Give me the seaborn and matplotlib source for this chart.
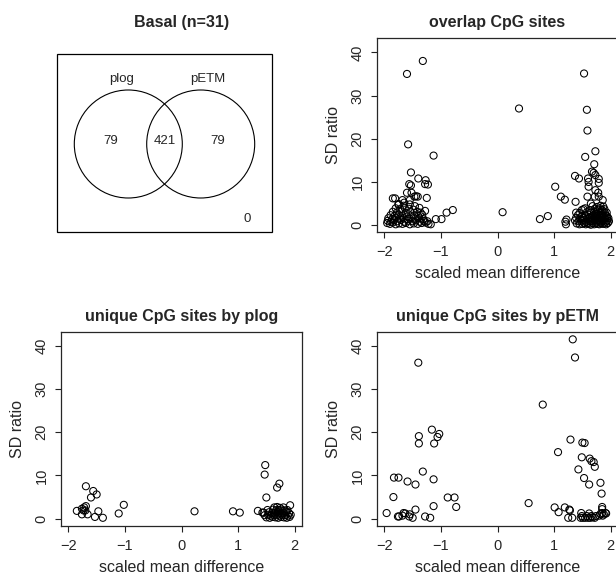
import pandas as pd
import seaborn as sns
import matplotlib.pyplot as plt
from matplotlib.patches import Circle, Rectangle

sns.set_style("ticks")
plt.rcParams['font.family'] = ['Liberation Sans', 'DejaVu Sans']

# venn counts: plog only, both, pETM only, neither
venn_title = "Basal (n=31)"
venn_sets = ["plog", "pETM"]
venn_counts = [79, 421, 79, 0]

titles = ["overlap CpG sites", "unique CpG sites by plog", "unique CpG sites by pETM"]
xticks = [-2, -1, 0, 1, 2]
yticks = [0, 10, 20, 30, 40]

# (scaled mean difference, SD ratio)
overlap = [
    # left side, sparse
    (-1.60, 35.0), (-1.32, 38.0), (-1.58, 18.7), (-1.13, 16.1), (-1.53, 12.2),
    (-1.40, 10.8), (-1.27, 10.4), (-1.28, 9.5), (-1.23, 9.4), (-1.56, 9.5),
    (-1.53, 9.2), (-1.60, 7.5), (-1.52, 7.5), (-1.47, 6.6), (-1.41, 6.6),
    (-1.44, 6.7), (-1.25, 6.3), (-1.85, 6.2), (-1.81, 6.2), (-1.65, 5.2),
    (-1.75, 4.9), (-1.28, 3.3), (-0.79, 3.5), (-0.90, 2.9), (-0.99, 1.4),
    (-1.09, 1.4), (-1.18, 0.2), (-1.55, 5.8), (-1.68, 5.8),
    # middle
    (0.09, 3.0), (0.38, 27.0), (0.75, 1.4), (0.89, 2.1),
    # right side, sparse
    (1.02, 8.9), (1.12, 6.6), (1.19, 5.9), (1.20, 0.8), (1.21, 0.2), (1.22, 1.3),
    (1.53, 35.1), (1.58, 26.7), (1.59, 21.9), (1.55, 15.8), (1.73, 17.1),
    (1.71, 14.1), (1.67, 12.4), (1.70, 12.1), (1.73, 11.6), (1.37, 11.4),
    (1.44, 10.8), (1.60, 10.8), (1.61, 10.0), (1.79, 10.7), (1.79, 9.8),
    (1.61, 8.9), (1.73, 8.1), (1.78, 7.5), (1.59, 6.6), (1.72, 6.6),
    (1.79, 6.6), (1.38, 5.4), (1.86, 5.8), (1.65, 5.0), (1.55, 3.9),
    (1.49, 3.5), (1.39, 2.9),
    # right side, dense
    (1.40, 0.4), (1.45, 0.2), (1.50, 0.3), (1.53, 0.5), (1.56, 0.2), (1.59, 0.4),
    (1.62, 0.3), (1.65, 0.1), (1.68, 0.5), (1.71, 0.2), (1.74, 0.4), (1.77, 0.3),
    (1.80, 0.2), (1.83, 0.5), (1.86, 0.3), (1.89, 0.4), (1.92, 0.2), (1.95, 0.5),
    (1.37, 1.1), (1.43, 0.9), (1.48, 1.0), (1.52, 1.2), (1.57, 0.8), (1.61, 1.1),
    (1.64, 0.9), (1.67, 1.0), (1.70, 1.2), (1.73, 0.8), (1.76, 1.1), (1.79, 1.0),
    (1.82, 0.9), (1.85, 1.2), (1.88, 1.0), (1.91, 0.8), (1.94, 1.1), (1.97, 0.9),
    (1.39, 1.7), (1.46, 1.5), (1.51, 1.6), (1.55, 1.8), (1.60, 1.5), (1.63, 1.7),
    (1.66, 1.6), (1.69, 1.4), (1.72, 1.8), (1.75, 1.6), (1.78, 1.5), (1.81, 1.7),
    (1.84, 1.6), (1.87, 1.8), (1.90, 1.5), (1.93, 1.7), (1.96, 1.6),
    (1.42, 2.3), (1.49, 2.1), (1.56, 2.2), (1.62, 2.4), (1.66, 2.0), (1.70, 2.3),
    (1.73, 2.2), (1.76, 2.1), (1.79, 2.4), (1.82, 2.2), (1.85, 2.3), (1.88, 2.1),
    (1.91, 2.2), (1.94, 2.0),
    (1.45, 2.8), (1.58, 3.0), (1.65, 2.9), (1.71, 3.1), (1.75, 2.7), (1.79, 3.0),
    (1.83, 2.9), (1.86, 3.2), (1.90, 2.8), (1.93, 2.9),
    (1.52, 3.7), (1.63, 3.5), (1.72, 3.8), (1.77, 3.6), (1.81, 3.9), (1.85, 3.5),
    (1.89, 3.7),
    (1.68, 4.4), (1.76, 4.2), (1.82, 4.5), (1.87, 4.3),
    # left side, dense
    (-1.95, 0.5), (-1.90, 0.3), (-1.85, 0.6), (-1.80, 0.2), (-1.74, 0.4), (-1.68, 0.3),
    (-1.62, 0.5), (-1.55, 0.2), (-1.48, 0.4), (-1.41, 0.3), (-1.34, 0.5), (-1.27, 0.6),
    (-1.22, 0.3),
    (-1.94, 1.0), (-1.88, 0.8), (-1.83, 1.1), (-1.77, 0.9), (-1.71, 1.2), (-1.65, 0.8),
    (-1.58, 1.0), (-1.50, 0.9), (-1.44, 1.1), (-1.37, 0.8), (-1.30, 1.0), (-1.24, 0.9),
    (-1.93, 1.6), (-1.86, 1.4), (-1.80, 1.7), (-1.73, 1.5), (-1.66, 1.6), (-1.59, 1.4),
    (-1.52, 1.8), (-1.45, 1.5), (-1.38, 1.6), (-1.31, 1.4),
    (-1.89, 2.3), (-1.82, 2.1), (-1.75, 2.4), (-1.68, 2.2), (-1.60, 2.0), (-1.47, 2.3),
    (-1.40, 2.1), (-1.33, 2.4),
    (-1.85, 3.1), (-1.78, 2.9), (-1.70, 3.2), (-1.62, 2.8), (-1.54, 3.0), (-1.42, 3.1),
    (-1.36, 2.9),
    (-1.80, 3.9), (-1.72, 3.7), (-1.64, 4.0), (-1.57, 3.8), (-1.49, 3.6), (-1.38, 4.0),
    (-1.75, 4.7), (-1.66, 4.5), (-1.55, 4.8), (-1.46, 4.4),
]

plog_only = [
    (-1.85, 1.8), (-1.76, 2.3), (-1.73, 1.9), (-1.76, 1.0), (-1.69, 2.9),
    (-1.69, 7.5), (-1.66, 1.0), (-1.70, 1.9), (-1.60, 4.9), (-1.56, 6.4),
    (-1.50, 5.6), (-1.53, 0.4), (-1.47, 1.7), (-1.39, 0.2), (-1.11, 1.2),
    (-1.02, 3.2), (-1.72, 2.6), (0.23, 1.7), (0.91, 1.7), (1.03, 1.4),
    (1.35, 1.8), (1.48, 12.4), (1.47, 10.2), (1.50, 4.9), (1.73, 8.1),
    (1.69, 7.2), (1.92, 3.1), (1.43, 1.4),
    (1.50, 0.3), (1.56, 0.2), (1.61, 0.4), (1.66, 0.3), (1.71, 0.2), (1.76, 0.4),
    (1.81, 0.3), (1.86, 0.2), (1.91, 0.4),
    (1.47, 0.8), (1.53, 0.9), (1.58, 0.7), (1.63, 0.9), (1.68, 0.8), (1.73, 0.7),
    (1.78, 0.9), (1.83, 0.8), (1.88, 0.7), (1.93, 0.9),
    (1.45, 1.4), (1.55, 1.5), (1.60, 1.3), (1.65, 1.4), (1.70, 1.5), (1.75, 1.3),
    (1.80, 1.4), (1.85, 1.5), (1.90, 1.3),
    (1.52, 2.0), (1.62, 2.1), (1.67, 1.9), (1.72, 2.0), (1.77, 2.1), (1.82, 1.9),
    (1.87, 2.0),
    (1.64, 2.6), (1.69, 2.7), (1.74, 2.5), (1.80, 2.6),
]

petm_only = [
    (-1.96, 1.3), (-1.84, 5.0), (-1.83, 9.5), (-1.75, 9.5), (-1.76, 0.5),
    (-1.74, 0.5), (-1.66, 1.3), (-1.68, 0.7), (-1.63, 1.2), (-1.59, 8.6),
    (-1.56, 0.5), (-1.55, 1.0), (-1.50, 0.2), (-1.45, 7.9), (-1.45, 2.1),
    (-1.40, 36.1), (-1.39, 19.1), (-1.39, 17.4), (-1.32, 10.9), (-1.28, 0.5),
    (-1.19, 0.2), (-1.16, 20.6), (-1.13, 9.1), (-1.13, 2.9), (-1.12, 17.4),
    (-1.06, 18.9), (-1.03, 19.6), (-0.88, 4.9), (-0.76, 4.9), (-0.73, 2.7),
    (0.55, 3.6), (0.80, 26.4), (1.01, 2.6), (1.07, 15.4), (1.08, 1.5),
    (1.19, 2.6), (1.29, 18.3), (1.27, 2.1), (1.28, 1.9), (1.25, 0.2),
    (1.33, 41.5), (1.37, 37.3), (1.32, 0.2), (1.43, 11.4), (1.49, 14.2),
    (1.50, 17.6), (1.54, 17.5), (1.53, 9.4), (1.62, 7.9), (1.63, 13.9),
    (1.66, 13.3), (1.70, 13.1), (1.72, 12.0), (1.82, 8.3), (1.84, 5.8),
    (1.85, 2.7), (1.85, 2.2), (1.48, 1.3), (1.85, 1.3), (1.91, 1.3),
    (1.47, 0.2), (1.51, 0.2), (1.55, 0.2), (1.60, 0.2), (1.64, 0.2), (1.68, 0.3),
    (1.72, 0.2), (1.49, 0.6), (1.58, 0.6), (1.66, 0.6), (1.74, 0.6), (1.80, 0.7),
    (1.86, 0.7), (1.62, 1.2), (1.82, 1.1), (1.88, 1.0), (1.92, 1.2),
]

W, H = 616, 577
fig = plt.figure(figsize=(W / 100, H / 100), dpi=100)


def px_axes(left, top, w=241, h=194):
    return fig.add_axes([left / W, 1 - (top + h) / H, w / W, h / H])


def scatter_panel(ax, pts, title):
    df = pd.DataFrame(pts, columns=["diff", "sd"])
    sns.scatterplot(data=df, x="diff", y="sd", ax=ax, marker="o", s=26,
                    facecolors="none", edgecolor="black", linewidth=0.75,
                    legend=False)
    ax.set_xlim(-2.13, 2.13)
    ax.set_ylim(-1.7, 43.2)
    ax.set_xticks(xticks)
    ax.set_yticks(yticks)
    ax.tick_params(length=4, width=0.8, labelsize=10.5, pad=5, color="#222222")
    for lab in ax.get_yticklabels():
        lab.set_rotation(90)
        lab.set_va("center")
    for sp in ax.spines.values():
        sp.set_linewidth(0.9)
    ax.set_title(title, fontweight="bold", fontsize=11.5, pad=8)
    ax.set_xlabel("scaled mean difference", fontsize=11.5)
    ax.set_ylabel("SD ratio", fontsize=11.5)
    ax.xaxis.set_label_coords(0.5, -0.175)
    ax.yaxis.set_label_coords(-0.15, 0.5)


# venn panel
ax0 = px_axes(61, 38.5)
ax0.set_xlim(0, 241)
ax0.set_ylim(194, 0)
ax0.axis("off")
ax0.set_title(venn_title, fontweight="bold", fontsize=11.5, pad=8)
ax0.add_patch(Rectangle((-4, 15.5), 215, 178.5, fill=False, ec="black", lw=0.9,
                        clip_on=False))
for cx in (67.3, 139.7):
    ax0.add_patch(Circle((cx, 105.5), 54, fill=False, ec="black", lw=0.8))
ax0.text(60.7, 40.5, venn_sets[0], ha="center", va="center", fontsize=9.5)
ax0.text(146.3, 40.5, venn_sets[1], ha="center", va="center", fontsize=9.5)
for (tx, ty), n in zip([(49.7, 102.2), (103.5, 102.2), (156.7, 102.2), (185.7, 180.8)],
                       venn_counts):
    ax0.text(tx, ty, str(n), ha="center", va="center", fontsize=9.5)

scatter_panel(px_axes(377, 38.5), overlap, titles[0])
scatter_panel(px_axes(61, 332), plog_only, titles[1])
scatter_panel(px_axes(377, 332), petm_only, titles[2])

fig.savefig("out.png", dpi=100)
